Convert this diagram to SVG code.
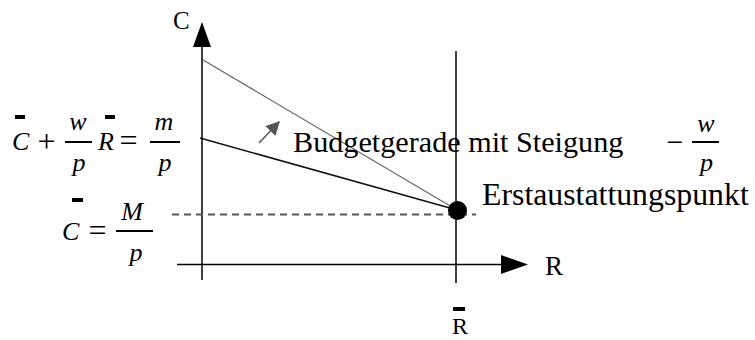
<svg xmlns="http://www.w3.org/2000/svg" width="755" height="340" viewBox="0 0 755 340" font-family="'Liberation Serif', 'Times New Roman', Times, serif">
  <style>
    text { font-family: 'Liberation Serif', 'Times New Roman', Times, serif; fill: #000; }
    .it { font-style: italic; font-size: 26px; }
    .op { font-size: 32px; }
    .bar { fill: #000; }
    .frac { stroke: #000; stroke-width: 2; }
    .axis { stroke: #000; stroke-width: 1.5; fill: none; }
  </style>
  <defs>
    <marker id="smallArrow" viewBox="0 0 10 10" refX="9" refY="5" markerWidth="14" markerHeight="14" markerUnits="userSpaceOnUse" orient="auto">
      <path d="M0,0 L10,5 L0,10 z" fill="#555"/>
    </marker>
  </defs>
  <rect width="755" height="340" fill="#fff"/>

  <g id="axes">
    <line class="axis" x1="202" y1="46" x2="202" y2="280"/>
    <polygon points="202,22 193,47 211,47" fill="#000"/>
    <line class="axis" x1="177" y1="264.5" x2="502" y2="264.5"/>
    <polygon points="528,264.5 501,255 501,274" fill="#000"/>
    <line class="axis" x1="456" y1="51" x2="456" y2="283"/>
  </g>

  <g id="connectors">
    <line x1="203" y1="60" x2="457" y2="210" stroke="#666" stroke-width="1.2"/>
    <line x1="200" y1="138" x2="457" y2="210" stroke="#111" stroke-width="1.5"/>
    <line x1="172" y1="214.5" x2="476" y2="214.5" stroke="#555" stroke-width="2" stroke-dasharray="7,5"/>
    <line x1="259" y1="143" x2="279" y2="122" stroke="#555" stroke-width="1.5" marker-end="url(#smallArrow)"/>
  </g>

  <g id="label-C">
    <text x="173" y="29" font-size="25">C</text>
  </g>
  <g id="label-R">
    <text x="545" y="275" font-size="27">R</text>
  </g>
  <g id="label-Rbar">
    <rect class="bar" x="453" y="307" width="12" height="4"/>
    <text x="452" y="334" font-size="24">R</text>
  </g>

  <g id="equation-budget">
    <rect class="bar" x="15" y="115" width="10" height="4"/>
    <text class="it" x="12" y="150">C</text>
    <text class="op" x="46.5" y="152" text-anchor="middle">+</text>
    <text class="it" x="78" y="130" text-anchor="middle">w</text>
    <line class="frac" x1="65" y1="142" x2="92" y2="142"/>
    <text class="it" x="79" y="171" text-anchor="middle">p</text>
    <rect class="bar" x="105" y="115" width="10" height="4"/>
    <text class="it" x="98" y="150">R</text>
    <text class="op" x="128.5" y="151" text-anchor="middle">=</text>
    <text class="it" x="164" y="130" text-anchor="middle">m</text>
    <line class="frac" x1="150" y1="142" x2="180" y2="142"/>
    <text class="it" x="165" y="171" text-anchor="middle">p</text>
  </g>

  <g id="equation-Cbar">
    <rect class="bar" x="72" y="198" width="11" height="4"/>
    <text class="it" x="62" y="240">C</text>
    <text class="op" x="97.5" y="241" text-anchor="middle">=</text>
    <text class="it" x="132" y="220" text-anchor="middle">M</text>
    <line class="frac" x1="116" y1="231" x2="153" y2="231"/>
    <text class="it" x="136" y="261" text-anchor="middle">p</text>
  </g>

  <g id="budget-label">
    <text x="293" y="152" font-size="30.2">Budgetgerade mit Steigung</text>
    <text x="675" y="152" font-size="30" text-anchor="middle">−</text>
    <text class="it" x="706" y="132" text-anchor="middle">w</text>
    <line class="frac" x1="692" y1="142" x2="719" y2="142"/>
    <text class="it" x="706.5" y="171" text-anchor="middle">p</text>
  </g>

  <g id="endowment-point">
    <circle cx="457.5" cy="210.5" r="9.5" fill="#000"/>
    <text x="482" y="205" font-size="31.8">Erstaustattungspunkt</text>
  </g>
</svg>
